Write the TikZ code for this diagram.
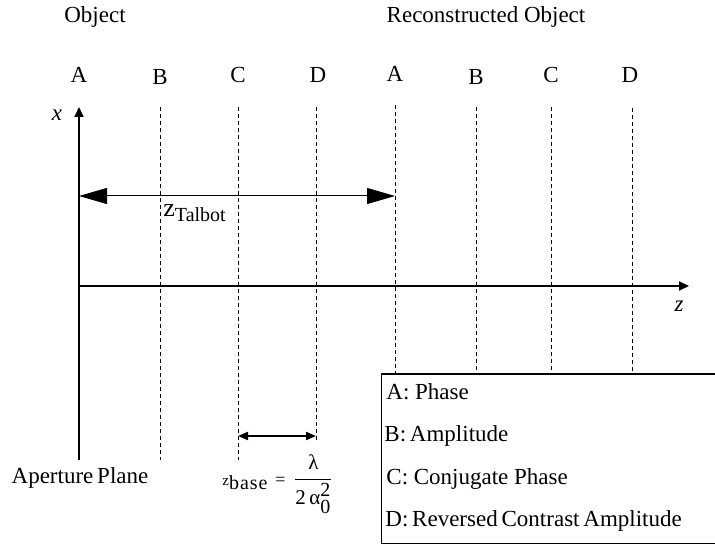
\documentclass[tikz,border=0pt]{standalone}
\usepackage{amsmath}
\usepackage{fontspec}
\setmainfont{Liberation Serif}
\usetikzlibrary{arrows.meta}
\begin{document}
\begin{tikzpicture}[x=0.5pt,y=-0.5pt,
  lbl/.style={inner sep=0pt,font=\fontsize{11.5}{13}\selectfont},
  plane/.style={dashed,dash pattern=on 2pt off 1.5pt,line width=0.45pt},
  axis/.style={line width=1pt,-{Triangle[length=5pt,width=4.5pt]}},
  talbot/.style={line width=0.5pt,{Triangle[length=14pt,width=8pt]}-{Triangle[length=14pt,width=8pt]}},
  basearrow/.style={line width=1pt,{Triangle[length=5pt,width=4pt]}-{Triangle[length=5pt,width=4pt]}}]
\useasboundingbox (0,0) rectangle (715,544);
% titles
\node[lbl] (obj) at (95,17) {Object};
\node[lbl] (rec) at (486,17) {Reconstructed Object};
% plane letters
\node[lbl] (lA1) at (79,75) {A};
\node[lbl] (lB1) at (160,77) {B};
\node[lbl] (lC1) at (238,75) {C};
\node[lbl] (lD1) at (318,75) {D};
\node[lbl] (lA2) at (395,74) {A};
\node[lbl] (lB2) at (476,77) {B};
\node[lbl] (lC2) at (551,75) {C};
\node[lbl] (lD2) at (630,75) {D};
% coordinates
\coordinate (xb) at (79,460);
\coordinate (xt) at (79,107);
\coordinate (zl) at (79,286);
\coordinate (zr) at (689,286);
\coordinate (tl) at (79,196);
\coordinate (tr) at (395,196);
\coordinate (bl) at (238,436);
\coordinate (br) at (316,436);
% dashed planes
\draw[plane] (160,107) -- (160,460);
\draw[plane] (238,107) -- (238,460);
\draw[plane] (316,107) -- (316,442);
\draw[plane] (395,105) -- (395,374);
\draw[plane] (476,107) -- (476,374);
\draw[plane] (551,107) -- (551,374);
\draw[plane] (632,108) -- (632,374);
% axes
\draw[axis] (xb) -- (xt);
\draw[axis] (zl) -- (zr);
\node[lbl,font=\fontsize{11.5}{13}\selectfont\itshape] (xlab) at (57,115) {x};
\node[lbl,font=\fontsize{11.5}{13}\selectfont\itshape] (zlab) at (679,306) {z};
% Talbot arrow
\draw[talbot] (tl) -- (tr);
\node[lbl,anchor=west] (zt) at (163,213) {\fontsize{13}{14}\selectfont z\raisebox{-0.45ex}{\fontsize{10}{12}\selectfont Talbot}};
% base arrow
\draw[basearrow] (bl) -- (br);
\node[lbl] (ap) at (80,478) {Aperture\,Plane};
\node[lbl,anchor=west] (zb) at (222,484) {{\fontsize{7.5}{8}\selectfont z}\raisebox{-0.4ex}{\fontsize{10}{11}\selectfont b\kern0.5pt a\kern0.5pt s\kern0.5pt e}\,\,{\fontsize{9}{10}\selectfont =}\,\,$\dfrac{\text{\fontsize{10.5}{11}\selectfont λ}}{\text{\fontsize{10.5}{11}\selectfont 2\,α$_{\text{\fontsize{10}{11}\selectfont 0}}^{\text{\fontsize{10}{11}\selectfont 2}}$}}$};
% legend
\draw[line width=0.5pt] (716,374) -- (381,374) -- (381,543) -- (716,543);
\draw[line width=1pt] (381,374) -- (716,374);
\node[lbl,anchor=west] (la) at (386,392) {A: Phase};
\node[lbl,anchor=west] (lb) at (384,436) {B:\,Amplitude};
\node[lbl,anchor=west] (lc) at (386,479) {C: Conjugate Phase};
\node[lbl,anchor=west] (ld) at (385,521) {D:\,Reversed\,Contrast\,Amplitude};
\end{tikzpicture}
\end{document}
